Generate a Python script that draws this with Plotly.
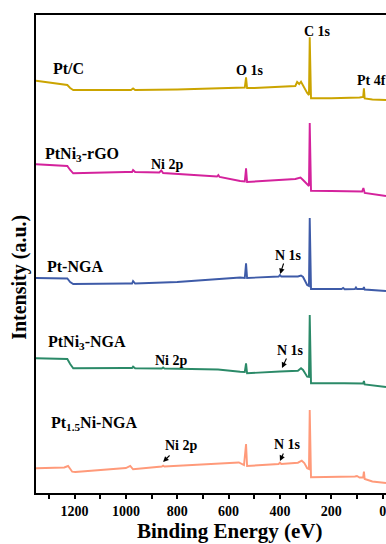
import plotly.graph_objects as go

# Survey XPS spectra (binding energy in eV, stacked intensity in a.u.)
be_ptc = [1350, 1228, 1217, 1205, 1100, 980, 972, 964, 800, 555, 537, 532, 528, 500,
          340, 333, 325, 318, 310, 294, 287, 284, 279, 200, 90, 76, 73, 70, 40, -13]
int_ptc = [412.3, 408, 405, 403, 403, 403, 404.5, 403, 403.5, 405.7, 405.5, 415.7, 405, 405,
           407, 411, 409, 411.3, 407, 400, 398, 455.7, 394.7, 394.7, 395.5, 396, 404.7, 394.5, 393.5, 393]

be_rgo = [1350, 1228, 1217, 1205, 1000, 976, 972, 964, 870, 862, 855, 645, 640, 635, 555, 537, 532, 528,
          340, 320, 310, 294, 287, 284, 279, 200, 80, 75, 70, -13]
int_rgo = [328.7, 327, 323, 319.7, 321, 321, 323, 321, 320.5, 322.5, 320, 316.5, 318, 316, 312, 311.5, 324.7, 311,
           314, 315.5, 313, 308, 307, 370, 302.3, 302, 301.5, 305, 300, 297]

be_ptnga = [1350, 1228, 1217, 1205, 1000, 976, 972, 964, 800, 555, 537, 532, 528, 405, 400, 395,
            330, 318, 310, 294, 287, 284, 279, 160, 154, 148, 108, 104, 100, 76, 73, 70, -13]
int_ptnga = [215, 214.5, 211, 209, 209.5, 209.5, 212, 209.5, 211, 215.5, 215, 229.7, 215, 216.5, 218, 216.5,
             216.5, 217.5, 216, 208, 207, 275, 204, 204, 205, 203.7, 204, 205.5, 204, 204, 206, 203.5, 202]

be_ni3nga = [1350, 1228, 1217, 1205, 1000, 976, 972, 964, 860, 855, 850, 641, 555, 537, 532, 528,
             400, 330, 318, 310, 294, 287, 284, 279, 150, 76, 73, 70, -13]
int_ni3nga = [134.7, 134, 129, 124.7, 125, 125, 126.3, 124.7, 124.5, 125.5, 124.5, 123.5, 121.3, 121, 129.7, 119.7,
              121.5, 122.3, 124.7, 123, 116.3, 116, 178, 109.7, 109.7, 109.5, 112, 108.5, 106]

be_15nga = [1350, 1240, 1225, 1209, 1197, 1000, 983, 972, 860, 855, 850, 641, 560, 540, 532, 528,
            405, 400, 395, 330, 315, 305, 294, 287, 284, 279, 160, 108, 100, 90, 76, 73, 70, 40, -13]
int_15nga = [24.7, 25.5, 27, 21.3, 21, 25, 27, 23.7, 26.5, 27.3, 26.5, 29.7, 30.5, 28, 49, 27,
             29, 30.3, 29, 30.3, 32.3, 30, 24.7, 24, 83, 15.7, 16, 16.5, 17, 15.5, 15.5, 21.3, 14, 11.5, 10]

series_names = ["Pt/C", "PtNi<sub>3</sub>-rGO", "Pt-NGA", "PtNi<sub>3</sub>-NGA", "Pt<sub>1.5</sub>Ni-NGA"]
series_x = [be_ptc, be_rgo, be_ptnga, be_ni3nga, be_15nga]
series_y = [int_ptc, int_rgo, int_ptnga, int_ni3nga, int_15nga]
colors = ["#CBA400", "#D4229C", "#3E5BA8", "#2B8A68", "#FF9A7A"]

# sample labels (binding energy, intensity)
label_x = [1224, 1170, 1197, 1151, 1124]
label_y = [425, 339, 227, 151, 70]

# peak labels
peak_text = ["O 1s", "C 1s", "Pt 4f", "Ni 2p", "N 1s", "Ni 2p", "N 1s", "Ni 2p", "N 1s"]
peak_x = [520, 252, 42, 839, 365, 824, 357, 785, 372]
peak_y = [423, 462, 413, 329, 238, 133, 143, 48, 49]

# arrows: head (x, y) and tail (x, y)
arrow_head_x = [399, 392, 855, 400]
arrow_head_y = [219, 125, 31, 32]
arrow_tail_x = [384, 372, 824, 384]
arrow_tail_y = [231, 136, 39, 41]

x_ticks = [1200, 1000, 800, 600, 400, 200, 0]

serif = "Liberation Serif, Times New Roman, serif"

fig = go.Figure()
for name, xs, ys, c in zip(series_names, series_x, series_y, colors):
    fig.add_trace(go.Scatter(x=xs, y=ys, mode="lines", name=name,
                             line=dict(color=c, width=1.9), showlegend=False))

annotations = []
for t, x, y in zip(series_names, label_x, label_y):
    annotations.append(dict(x=x, y=y, xref="x", yref="y", text="<b>%s</b>" % t,
                            showarrow=False, font=dict(family=serif, size=16, color="black")))
for t, x, y in zip(peak_text, peak_x, peak_y):
    annotations.append(dict(x=x, y=y, xref="x", yref="y", text="<b>%s</b>" % t,
                            showarrow=False, font=dict(family=serif, size=14, color="black")))
for hx, hy, tx, ty in zip(arrow_head_x, arrow_head_y, arrow_tail_x, arrow_tail_y):
    annotations.append(dict(x=hx, y=hy, ax=tx, ay=ty, xref="x", yref="y", axref="x", ayref="y",
                            text="", showarrow=True, arrowhead=2, arrowsize=1, arrowwidth=1.1,
                            arrowcolor="black"))

# axis titles
annotations.append(dict(x=0.554, y=-0.0795, xref="paper", yref="paper",
                        xanchor="center", yanchor="middle",
                        text="<b>Binding Energy (eV)</b>", showarrow=False,
                        font=dict(family=serif, size=21, color="black")))
annotations.append(dict(x=-0.046, y=0.452, xref="paper", yref="paper",
                        xanchor="center", yanchor="middle", textangle=-90,
                        text="<b>Intensity (a.u.)</b>", showarrow=False,
                        font=dict(family=serif, size=20, color="black")))

fig.update_layout(
    width=386, height=544,
    margin=dict(l=36, r=0, t=15, b=51),
    paper_bgcolor="white", plot_bgcolor="white",
    annotations=annotations,
    xaxis=dict(
        range=[1350, -13], showgrid=False, zeroline=False,
        showline=True, linecolor="black", linewidth=2, mirror=True,
        ticks="outside", ticklen=4, tickwidth=2, tickcolor="black",
        tickmode="array", tickvals=x_ticks, ticktext=[str(v) for v in x_ticks],
        ticklabeloverflow="allow",
        minor=dict(dtick=100, tick0=0, ticks="outside", ticklen=4, tickwidth=2, tickcolor="black"),
        tickfont=dict(family=serif, size=14, color="black", weight="bold"),
    ),
    yaxis=dict(
        range=[0, 478], showgrid=False, zeroline=False, showticklabels=False,
        showline=True, linecolor="black", linewidth=2, ticks="",
    ),
)

fig.write_html("out.html")
